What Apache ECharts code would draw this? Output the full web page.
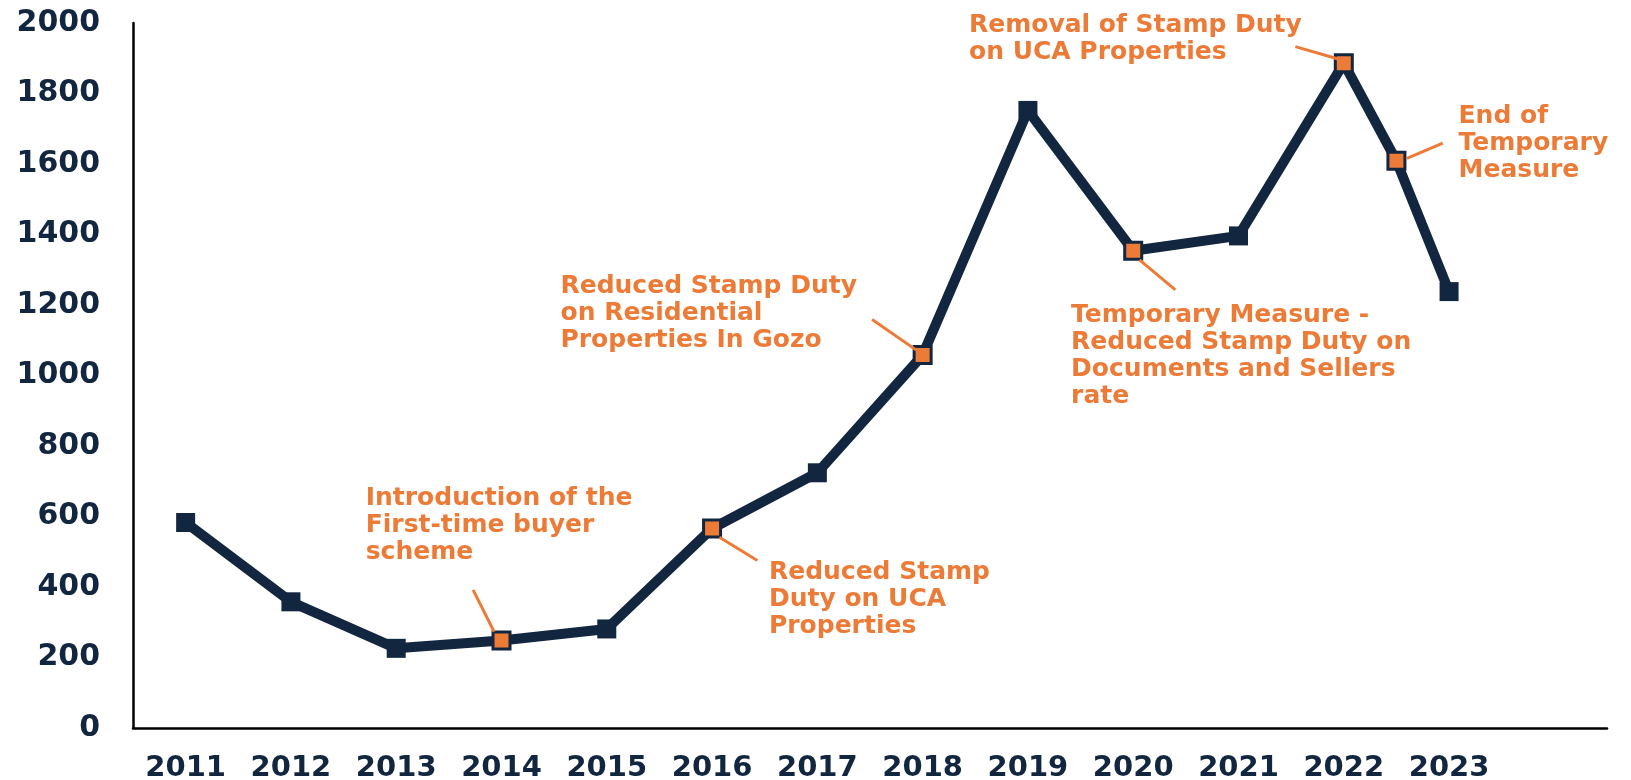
<!DOCTYPE html>
<html>
<head>
<meta charset="utf-8">
<script src="https://cdn.jsdelivr.net/npm/echarts@6/dist/echarts.min.js"></script>
<style>
  html, body { margin: 0; padding: 0; background: #fff; }
  #chart { width: 1631px; height: 780px; }
</style>
</head>
<body>
<div id="chart"></div>
<script>
// axis labels
var yearLabels = ['2011', '2012', '2013', '2014', '2015', '2016', '2017', '2018', '2019', '2020', '2021', '2022', '2023', '']

// series values (x = year, 2022.5 is the mid-year point)
var years = [2011, 2012, 2013, 2014, 2015, 2016, 2017, 2018, 2019, 2020, 2021, 2022, 2022.5, 2023]
var values = [583, 358, 226, 248, 281, 566, 724, 1058, 1752, 1354, 1396, 1886, 1609, 1238]

// points that carry a policy note
var noteYears = [2014, 2016, 2018, 2020, 2022, 2022.5]

// notes: text, where the text sits and the leader line (all in data units)
var notes = [
  { text: 'Introduction of the\nFirst-time buyer\nscheme', at: [2012.71, 574], line: [[2013.73, 392], [2013.93, 273]] },
  { text: 'Reduced Stamp Duty\non Residential\nProperties In Gozo', at: [2014.56, 1177], line: [[2017.52, 1159], [2017.94, 1072]] },
  { text: 'Reduced Stamp\nDuty on UCA\nProperties', at: [2016.54, 364], line: [[2016.07, 541], [2016.43, 475]] },
  { text: 'Removal of Stamp Duty\non UCA Properties', at: [2018.44, 1955], line: [[2021.54, 1933], [2021.98, 1895]] },
  { text: 'End of\nTemporary\nMeasure', at: [2023.09, 1657], line: [[2022.6, 1616], [2022.94, 1659]] },
  { text: 'Temporary Measure -\nReduced Stamp Duty on\nDocuments and Sellers\nrate', at: [2019.41, 1055], line: [[2020.06, 1328], [2020.4, 1243]] }
]

var navy = '#12263f'
var orange = '#ec7b38'
var font = 'DejaVu Sans'

var chart = echarts.init(document.getElementById('chart'))

var seriesData = years.map(function (y, i) {
  var item = { value: [y, values[i]] }
  if (noteYears.indexOf(y) >= 0) {
    item.symbolSize = 17
    item.itemStyle = { color: orange, borderColor: navy, borderWidth: 3 }
  }
  return item
})

var option = {
  animation: false,
  textStyle: { fontFamily: font },
  grid: { left: 133, right: 24, top: 23, bottom: 52, outerBoundsMode: 'none', containLabel: false },
  xAxis: [
    {
      type: 'category',
      data: yearLabels,
      boundaryGap: true,
      axisLine: { show: true, lineStyle: { color: '#000', width: 2.5 } },
      axisTick: { show: false },
      axisLabel: { color: navy, fontSize: 29, fontWeight: 'bold', margin: 26, fontFamily: font }
    },
    {
      type: 'value',
      min: 2010.5,
      max: 2024.5,
      show: false
    }
  ],
  yAxis: {
    type: 'value',
    min: 0,
    max: 2000,
    interval: 200,
    axisLine: { show: true, lineStyle: { color: '#000', width: 2.5 } },
    axisTick: { show: false },
    splitLine: { show: false },
    axisLabel: {
      color: navy, fontSize: 30, fontWeight: 'bold', margin: 33, fontFamily: font,
      formatter: function (v) { return String(v) }
    }
  },
  series: [
    {
      type: 'line',
      xAxisIndex: 1,
      data: seriesData,
      symbol: 'rect',
      symbolSize: 19,
      lineStyle: { color: navy, width: 10 },
      itemStyle: { color: navy },
      z: 3,
      markLine: {
        silent: true,
        symbol: ['none', 'none'],
        label: { show: false },
        lineStyle: { color: orange, width: 3, type: 'solid' },
        data: notes.map(function (n) {
          return [{ coord: n.line[0] }, { coord: n.line[1] }]
        })
      },
      markPoint: {
        silent: true,
        symbol: 'circle',
        symbolSize: 0,
        label: {
          show: true,
          position: 'right',
          distance: 0,
          align: 'left',
          verticalAlign: 'middle',
          color: orange,
          fontSize: 25,
          fontWeight: 'bold',
          lineHeight: 27,
          fontFamily: font,
          formatter: function (p) { return p.name }
        },
        data: notes.map(function (n) {
          return { name: n.text, coord: n.at }
        })
      }
    }
  ]
}

chart.setOption(option)
</script>
</body>
</html>
